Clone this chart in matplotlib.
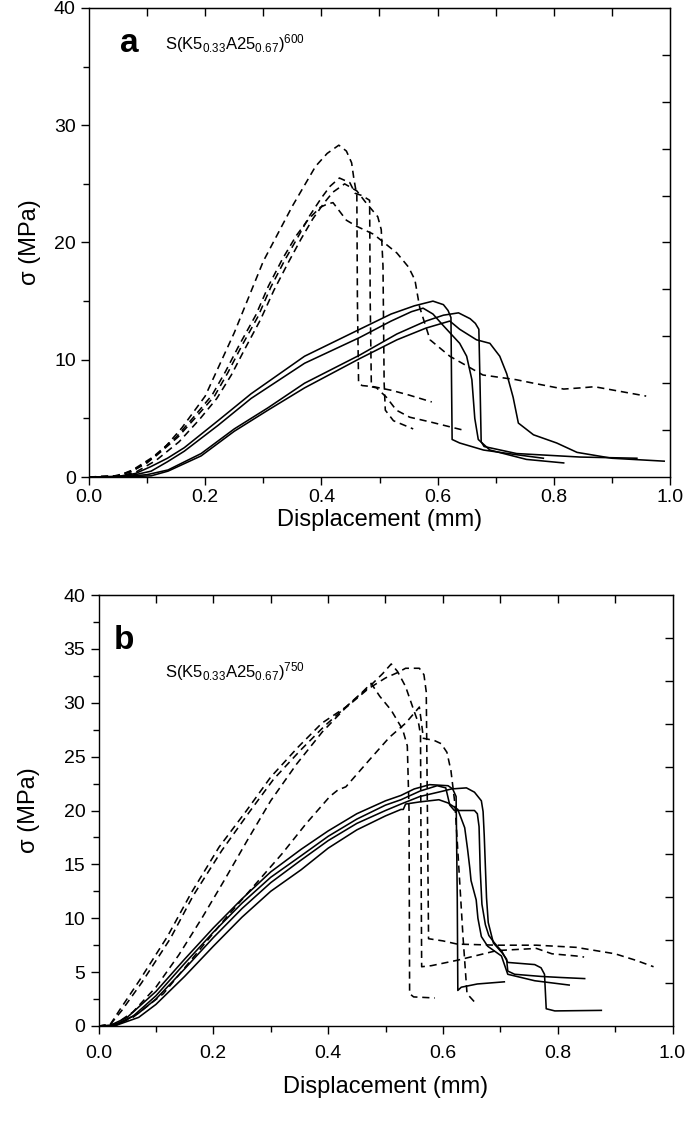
import numpy as np
import matplotlib
matplotlib.use("Agg")
import matplotlib.pyplot as plt
from matplotlib.ticker import MultipleLocator

plt.rcParams['font.family'] = ['Liberation Sans', 'DejaVu Sans']
plt.rcParams['mathtext.fontset'] = 'custom'
plt.rcParams['mathtext.rm'] = 'Liberation Sans'
plt.rcParams['mathtext.it'] = 'Liberation Sans'

# ---------------- panel a : S(K5 0.33 A25 0.67)600 ----------------
# dashed curves
a_d1_x = [0, 0.04, 0.07, 0.10, 0.13, 0.16, 0.20, 0.25, 0.30, 0.35, 0.39, 0.41, 0.43, 0.443, 0.452,
          0.456, 0.461, 0.462, 0.464, 0.47, 0.49, 0.52, 0.55, 0.59]
a_d1_y = [0, 0.05, 0.4, 1.2, 2.5, 4.2, 6.9, 12.3, 18.4, 23.1, 26.5, 27.6, 28.3, 27.8, 26.8,
          25.4, 24.0, 15.0, 8.0, 7.8, 7.7, 7.4, 7.0, 6.4]

a_d2_x = [0, 0.05, 0.078, 0.113, 0.153, 0.184, 0.216, 0.239, 0.262, 0.291, 0.313, 0.337, 0.36, 0.38,
          0.40, 0.415, 0.431, 0.449, 0.458, 0.47, 0.483, 0.484, 0.486, 0.495, 0.512, 0.529, 0.552,
          0.587, 0.644]
a_d2_y = [0, 0.1, 0.6, 1.7, 3.4, 5.1, 6.9, 8.9, 11.1, 13.7, 16.2, 18.5, 20.5, 22.3,
          23.8, 24.8, 25.5, 25.1, 24.2, 24.0, 23.6, 15.0, 7.7, 7.6, 6.8, 5.7, 5.1,
          4.7, 4.0]

a_d3_x = [0, 0.05, 0.075, 0.11, 0.15, 0.18, 0.212, 0.235, 0.258, 0.287, 0.309, 0.333, 0.357, 0.378,
          0.398, 0.411, 0.42, 0.443, 0.46, 0.49, 0.53, 0.55, 0.561, 0.569, 0.587, 0.621, 0.678,
          0.735, 0.765, 0.817, 0.846, 0.87, 0.959]
a_d3_y = [0, 0.1, 0.6, 1.7, 3.4, 5.1, 7.0, 9.0, 11.2, 13.8, 16.3, 18.6, 20.6, 22.0,
          23.0, 23.3, 23.4, 21.9, 21.4, 20.7, 19.1, 17.9, 16.8, 14.5, 11.7, 10.3, 8.7,
          8.3, 8.0, 7.5, 7.6, 7.7, 6.9]

a_d4_x = [0, 0.05, 0.08, 0.115, 0.155, 0.19, 0.22, 0.245, 0.268, 0.295, 0.318, 0.342, 0.365, 0.385,
          0.405, 0.42, 0.44, 0.461, 0.475, 0.497, 0.503, 0.506, 0.508, 0.51, 0.524, 0.558]
a_d4_y = [0, 0.05, 0.4, 1.4, 3.0, 4.9, 6.7, 8.7, 10.9, 13.4, 15.9, 18.2, 20.3, 22.0,
          23.4, 24.3, 25.0, 24.4, 23.5, 22.2, 21.1, 18.0, 8.0, 5.7, 4.8, 4.1]

# solid curves
a_s1_x = [0, 0.05, 0.08, 0.107, 0.135, 0.164, 0.222, 0.279, 0.371, 0.466, 0.52, 0.56, 0.592, 0.61,
          0.618, 0.623, 0.624, 0.625, 0.638, 0.679, 0.736, 0.782]
a_s1_y = [0, 0.05, 0.3, 0.9, 1.6, 2.5, 4.8, 7.1, 10.3, 12.6, 13.9, 14.6, 15.0, 14.7,
          14.2, 13.6, 8.0, 3.2, 2.9, 2.3, 1.9, 1.6]

a_s2_x = [0, 0.05, 0.08, 0.107, 0.135, 0.164, 0.222, 0.279, 0.371, 0.466, 0.52, 0.555, 0.575, 0.592,
          0.61, 0.638, 0.65, 0.659, 0.664, 0.67, 0.69, 0.753, 0.817]
a_s2_y = [0, 0.03, 0.2, 0.5, 1.3, 2.2, 4.4, 6.7, 9.7, 11.9, 13.3, 14.1, 14.4, 13.9,
          12.9, 11.4, 10.3, 8.3, 5.0, 3.2, 2.3, 1.5, 1.2]

a_s3_x = [0, 0.06, 0.1, 0.136, 0.193, 0.25, 0.308, 0.371, 0.466, 0.53, 0.58, 0.61, 0.636, 0.656,
          0.665, 0.671, 0.673, 0.675, 0.68, 0.736, 0.846, 0.943]
a_s3_y = [0, 0.03, 0.2, 0.6, 2.0, 4.1, 5.9, 8.0, 10.4, 12.2, 13.3, 13.8, 14.0, 13.5,
          13.1, 12.6, 8.0, 3.0, 2.6, 2.0, 1.7, 1.6]

a_s4_x = [0, 0.07, 0.107, 0.136, 0.193, 0.25, 0.308, 0.371, 0.466, 0.53, 0.58, 0.621, 0.638, 0.667,
          0.69, 0.707, 0.719, 0.73, 0.739, 0.765, 0.805, 0.84, 0.9, 0.99]
a_s4_y = [0, 0.02, 0.1, 0.5, 1.8, 3.9, 5.7, 7.6, 10.1, 11.7, 12.7, 13.3, 12.6, 11.7,
          11.4, 10.3, 8.8, 6.8, 4.6, 3.6, 2.9, 2.1, 1.6, 1.35]

# ---------------- panel b : S(K5 0.33 A25 0.67)750 ----------------
b_d1_x = [0, 0.02, 0.037, 0.071, 0.12, 0.161, 0.21, 0.258, 0.30, 0.348, 0.389, 0.431, 0.472, 0.495,
          0.51, 0.521, 0.535, 0.548, 0.558, 0.561, 0.562, 0.563, 0.58, 0.625, 0.694, 0.763, 0.79,
          0.832, 0.846]
b_d1_y = [0, 0.1, 1.5, 4.2, 8.3, 12.3, 16.6, 20.0, 23.1, 25.9, 28.1, 29.6, 31.5, 32.7,
          33.6, 32.9, 31.5, 29.5, 28.0, 27.0, 15.0, 5.5, 5.6, 6.1, 7.0, 7.2, 6.7,
          6.5, 6.4]

b_d2_x = [0, 0.03, 0.06, 0.10, 0.14, 0.18, 0.22, 0.26, 0.30, 0.345, 0.39, 0.43, 0.47, 0.50,
          0.521, 0.535, 0.559, 0.567, 0.571, 0.573, 0.575, 0.60, 0.625, 0.694, 0.763, 0.832, 0.90,
          0.936, 0.967]
b_d2_y = [0, 0.2, 1.3, 3.6, 6.6, 10.0, 13.6, 17.3, 20.9, 24.3, 27.3, 29.5, 31.3, 32.3,
          32.8, 33.2, 33.2, 32.6, 31.0, 20.0, 8.1, 7.9, 7.6, 7.5, 7.5, 7.3, 6.7,
          6.1, 5.5]

b_d3_x = [0, 0.02, 0.04, 0.075, 0.125, 0.165, 0.215, 0.262, 0.305, 0.352, 0.393, 0.435, 0.46, 0.475,
          0.49, 0.51, 0.53, 0.538, 0.541, 0.542, 0.549, 0.586]
b_d3_y = [0, 0.1, 1.4, 4.0, 8.1, 12.1, 16.3, 19.8, 22.9, 25.6, 27.8, 29.8, 31.0, 31.8,
          30.6, 29.3, 27.5, 26.0, 20.0, 3.0, 2.7, 2.6]

b_d4_x = [0, 0.03, 0.06, 0.113, 0.175, 0.223, 0.279, 0.32, 0.362, 0.403, 0.417, 0.431, 0.472, 0.507,
          0.535, 0.559, 0.563, 0.566, 0.585, 0.597, 0.607, 0.614, 0.621, 0.628, 0.635, 0.642, 0.659]
b_d4_y = [0, 0.1, 0.8, 3.0, 7.0, 10.1, 13.5, 16.0, 18.8, 21.3, 21.9, 22.2, 24.7, 26.8,
          28.1, 29.6, 28.0, 26.7, 26.5, 26.2, 25.4, 23.7, 20.6, 14.5, 8.3, 3.0, 2.0]

b_s1_x = [0, 0.02, 0.05, 0.10, 0.15, 0.20, 0.25, 0.30, 0.353, 0.40, 0.45, 0.50, 0.527, 0.55,
          0.577, 0.609, 0.617, 0.623, 0.625, 0.626, 0.632, 0.66, 0.707]
b_s1_y = [0, 0.05, 0.8, 3.2, 6.2, 9.1, 11.8, 14.3, 16.4, 18.1, 19.7, 20.9, 21.4, 22.0,
          22.4, 22.3, 22.0, 21.3, 12.0, 3.3, 3.6, 3.9, 4.1]

b_s2_x = [0, 0.03, 0.07, 0.10, 0.15, 0.20, 0.25, 0.30, 0.353, 0.40, 0.45, 0.50, 0.527, 0.56,
          0.60, 0.615, 0.641, 0.655, 0.667, 0.67, 0.672, 0.674, 0.676, 0.679, 0.688, 0.703, 0.711,
          0.713, 0.725, 0.771, 0.806, 0.847]
b_s2_y = [0, 0.05, 1.2, 2.5, 5.3, 8.2, 10.9, 13.3, 15.4, 17.2, 18.8, 20.0, 20.6, 21.3,
          21.8, 22.0, 22.1, 21.7, 20.9, 19.9, 17.7, 14.8, 11.9, 9.6, 7.7, 6.8, 6.2,
          5.1, 4.8, 4.6, 4.5, 4.4]

b_s3_x = [0, 0.025, 0.06, 0.10, 0.15, 0.20, 0.25, 0.30, 0.353, 0.40, 0.45, 0.50, 0.527, 0.56,
          0.59, 0.605, 0.612, 0.62, 0.655, 0.66, 0.663, 0.665, 0.668, 0.674, 0.68, 0.69, 0.703,
          0.713, 0.76, 0.771, 0.777, 0.78, 0.795, 0.876]
b_s3_y = [0, 0.05, 0.9, 2.8, 5.8, 8.7, 11.4, 13.8, 15.8, 17.6, 19.2, 20.5, 21.0, 21.8,
          22.3, 22.1, 20.5, 20.0, 20.0, 19.7, 18.5, 14.5, 11.3, 9.4, 8.4, 7.7, 6.9,
          5.9, 5.7, 5.4, 4.8, 1.6, 1.4, 1.45]

b_s4_x = [0, 0.03, 0.07, 0.10, 0.15, 0.20, 0.25, 0.30, 0.353, 0.40, 0.45, 0.50, 0.527, 0.531,
          0.535, 0.56, 0.593, 0.609, 0.626, 0.638, 0.643, 0.647, 0.649, 0.658, 0.661, 0.667, 0.678,
          0.702, 0.713, 0.76, 0.82]
b_s4_y = [0, 0.05, 0.8, 2.0, 4.6, 7.4, 10.1, 12.5, 14.5, 16.5, 18.2, 19.5, 20.1, 20.1,
          20.6, 20.8, 21.0, 20.7, 20.1, 18.4, 16.4, 14.6, 13.5, 11.7, 10.0, 8.3, 7.4,
          6.5, 4.8, 4.2, 3.8]

panels = [
    dict(label='a', temp='600', ymax=40, ymajor=10, yminor=5,
         dashed=[(a_d1_x, a_d1_y), (a_d2_x, a_d2_y), (a_d3_x, a_d3_y), (a_d4_x, a_d4_y)],
         solid=[(a_s1_x, a_s1_y), (a_s2_x, a_s2_y), (a_s3_x, a_s3_y), (a_s4_x, a_s4_y)],
         rect=[89 / 685, 1 - 477 / 1133, 581 / 685, 469 / 1133],
         letter_pos=(0.07, 0.925), text_pos=(0.13, 0.925),
         xpad=2.5, xlabelpad=2, ylabelpad=9),
    dict(label='b', temp='750', ymax=40, ymajor=5, yminor=2.5,
         dashed=[(b_d1_x, b_d1_y), (b_d2_x, b_d2_y), (b_d3_x, b_d3_y), (b_d4_x, b_d4_y)],
         solid=[(b_s1_x, b_s1_y), (b_s2_x, b_s2_y), (b_s3_x, b_s3_y), (b_s4_x, b_s4_y)],
         rect=[98.5 / 685, 1 - 1026 / 1133, 574 / 685, 431 / 1133],
         letter_pos=(0.045, 0.895), text_pos=(0.115, 0.822),
         xpad=8, xlabelpad=10, ylabelpad=17),
]

fig = plt.figure(figsize=(6.85, 11.33), dpi=100)

for p in panels:
    ax = fig.add_axes(p['rect'])
    for x, y in p['dashed']:
        ax.plot(x, y, color='black', lw=1.15, linestyle=(0, (4.5, 3)))
    for x, y in p['solid']:
        ax.plot(x, y, color='black', lw=1.15)

    ax.set_xlim(0, 1.0)
    ax.set_ylim(0, p['ymax'])
    ax.xaxis.set_major_locator(MultipleLocator(0.2))
    ax.xaxis.set_minor_locator(MultipleLocator(0.1))
    ax.yaxis.set_major_locator(MultipleLocator(p['ymajor']))
    ax.yaxis.set_minor_locator(MultipleLocator(p['yminor']))
    ax.xaxis.set_major_formatter(plt.FormatStrFormatter('%.1f'))
    ax.tick_params(which='major', direction='out', length=6, width=1.0, labelsize=14)
    ax.tick_params(which='minor', direction='out', length=4, width=1.0)
    ax.tick_params(axis='x', which='major', pad=p['xpad'])
    for s in ax.spines.values():
        s.set_linewidth(1.0)

    top = ax.secondary_xaxis('top')
    top.set_xticks(np.arange(0.1, 0.95, 0.1))
    top.tick_params(direction='in', length=6, width=1.0, labeltop=False)
    right = ax.secondary_yaxis('right')
    right.set_yticks(np.arange(4, 37, 4))
    right.tick_params(direction='in', length=6, width=1.0, labelright=False)

    ax.set_xlabel('Displacement (mm)', fontsize=17, labelpad=p['xlabelpad'])
    ax.set_ylabel('σ (MPa)', fontsize=17, labelpad=p['ylabelpad'])

    ax.text(p['letter_pos'][0], p['letter_pos'][1], p['label'], transform=ax.transAxes,
            fontsize=24, fontweight='bold', ha='center', va='center')
    ax.text(p['text_pos'][0], p['text_pos'][1],
            r'S(K5$_{0.33}$A25$_{0.67}$)$^{' + p['temp'] + '}$',
            transform=ax.transAxes, fontsize=12, ha='left', va='center')

fig.savefig('out.png', dpi=100)
